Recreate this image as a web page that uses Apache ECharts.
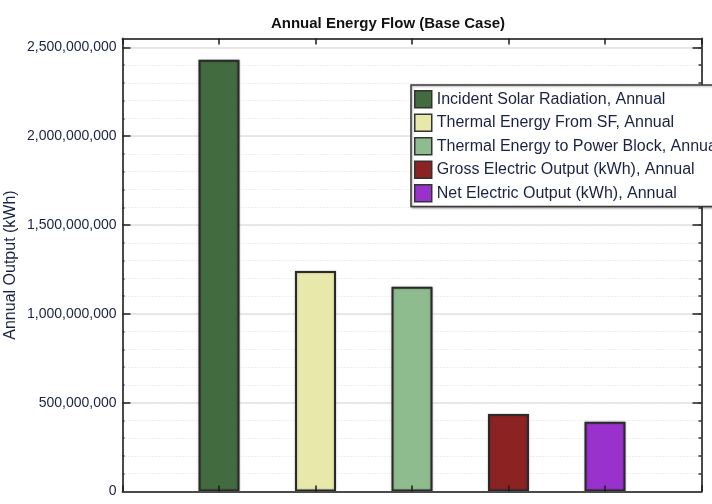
<!DOCTYPE html>
<html>
<head>
<meta charset="utf-8">
<script src="https://cdn.jsdelivr.net/npm/echarts@6/dist/echarts.min.js"></script>
<style>
  html, body { margin: 0; padding: 0; background: #fff; }
  #chart { width: 712px; height: 504px; }
</style>
</head>
<body>
<div id="chart"></div>
<script>
// Annual energy flow through the plant, one bar per stage
const categories = [
  'Incident Solar Radiation, Annual',
  'Thermal Energy From SF, Annual',
  'Thermal Energy to Power Block, Annual',
  'Gross Electric Output (kWh), Annual',
  'Net Electric Output (kWh), Annual'
];
const values = [2430000000, 1241000000, 1153000000, 436000000, 393000000];
const colors = ['#426c40', '#e8e8ab', '#8fbc8f', '#8b2323', '#9932cc'];
const yTickLabels = [0, 500000000, 1000000000, 1500000000, 2000000000, 2500000000];

// one empty slot on each side so the bars sit at evenly spaced positions
const slots = [''].concat(categories, ['']);

const FONT = '"Liberation Sans", Arial, sans-serif';
const TEXT = '#1a2244';
const AXIS = '#4a4a4a';
const yMax = 2550000000;
const yMajor = yTickLabels[1] - yTickLabels[0];
const yMinor = yMajor / 5;

const fmt = v => Math.round(v).toLocaleString('en-US');

// frame axis along the bottom or top edge, with short inward ticks at each bar
function xAxisAt(position) {
  return {
    type: 'category',
    position: position,
    data: slots,
    boundaryGap: false,
    z: 5,
    axisLine: { show: true, onZero: false, lineStyle: { color: AXIS, width: 2 } },
    axisTick: {
      show: true, inside: true, length: 6, interval: 0,
      lineStyle: { color: '#1a1a1a', width: 1.5 }
    },
    axisLabel: { show: false },
    splitLine: { show: false }
  };
}

const yCommon = { type: 'value', min: 0, max: yMax, z: 0 };

const chart = echarts.init(document.getElementById('chart'));
chart.setOption({
  animation: false,
  backgroundColor: '#ffffff',
  title: {
    text: 'Annual Energy Flow (Base Case)',
    left: 383,
    textAlign: 'center',
    top: 11,
    textStyle: { fontFamily: FONT, fontSize: 15, fontWeight: 'bold', color: '#111' }
  },
  grid: {
    left: 122.5, right: 10.5, top: 38.5, bottom: 12.5,
    containLabel: false, outerBoundsMode: 'none'
  },
  legend: {
    orient: 'vertical',
    left: 411,
    top: 85,
    z: 10,
    padding: [5, 4, 4, 3],
    itemWidth: 17,
    itemHeight: 17,
    itemGap: 5,
    icon: 'rect',
    backgroundColor: '#ffffff',
    borderColor: '#3a3a3a',
    borderWidth: 1.5,
    shadowColor: 'rgba(0,0,0,0.3)',
    shadowBlur: 2,
    shadowOffsetX: 1,
    shadowOffsetY: 1,
    itemStyle: { borderColor: '#333', borderWidth: 1.5 },
    textStyle: { fontFamily: FONT, fontSize: 16, color: TEXT },
    data: categories
  },
  xAxis: [xAxisAt('bottom'), xAxisAt('top')],
  yAxis: [
    // left axis: labels, major ticks, solid grid lines
    Object.assign({}, yCommon, {
      position: 'left',
      interval: yMajor,
      name: 'Annual Output (kWh)',
      nameLocation: 'middle',
      nameGap: 104,
      nameMoveOverlap: false,
      nameTextStyle: { fontFamily: FONT, fontSize: 16, color: TEXT },
      axisLine: { show: true, onZero: false, lineStyle: { color: AXIS, width: 2 } },
      axisTick: { show: true, inside: true, length: 8, lineStyle: { color: '#222', width: 1.5 } },
      axisLabel: {
        margin: 6, fontFamily: FONT, fontSize: 14, color: TEXT,
        showMaxLabel: false,
        formatter: v => (v > yTickLabels[yTickLabels.length - 1] ? '' : fmt(v))
      },
      splitLine: { show: true, lineStyle: { color: '#e2e2e2', width: 1.5 } }
    }),
    // left axis: minor ticks and dotted grid lines
    Object.assign({}, yCommon, {
      position: 'left',
      interval: yMinor,
      axisLine: { show: false, onZero: false },
      axisTick: { show: true, inside: true, length: 2, lineStyle: { color: '#333', width: 1.5 } },
      axisLabel: { show: false },
      splitLine: { show: true, lineStyle: { color: '#dcdcdc', width: 1, type: [1, 2] } }
    }),
    // right border with major ticks
    Object.assign({}, yCommon, {
      position: 'right',
      interval: yMajor,
      axisLine: { show: true, onZero: false, lineStyle: { color: AXIS, width: 2 } },
      axisTick: { show: true, inside: true, length: 9, lineStyle: { color: '#222', width: 1.5 } },
      axisLabel: { show: false },
      splitLine: { show: false }
    }),
    // right border minor ticks
    Object.assign({}, yCommon, {
      position: 'right',
      interval: yMinor,
      axisLine: { show: false, onZero: false },
      axisTick: { show: true, inside: true, length: 3, lineStyle: { color: '#333', width: 1.5 } },
      axisLabel: { show: false },
      splitLine: { show: false }
    })
  ],
  series: categories.map((name, i) => ({
    name: name,
    type: 'bar',
    z: 1,
    xAxisIndex: 0,
    yAxisIndex: 0,
    barWidth: 41,
    barGap: '-100%',
    itemStyle: {
      color: colors[i],
      borderColor: '#2a2a2a',
      borderWidth: 2,
      shadowColor: 'rgba(0,0,0,0.3)',
      shadowBlur: 2
    },
    data: slots.map(s => (s === name ? values[i] : '-'))
  }))
});
</script>
</body>
</html>
